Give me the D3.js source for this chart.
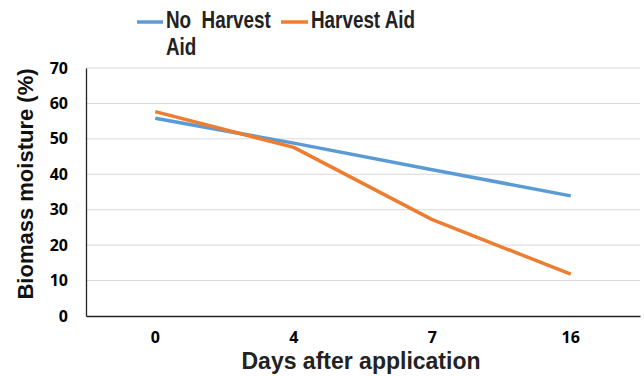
<!DOCTYPE html>
<html><head><meta charset="utf-8">
<script src="https://cdn.jsdelivr.net/npm/d3@7"></script>
<style>body{margin:0;background:#fff}svg{display:block}</style>
</head><body>
<script>
const days = ["0", "4", "7", "16"];
const noHarvestAid = [55.8, 48.8, 41.3, 33.9];
const harvestAid = [57.7, 47.6, 27.2, 11.8];
const yTicks = [0, 10, 20, 30, 40, 50, 60, 70];
const seriesNames = ["No  Harvest Aid", "Harvest Aid"];
const colors = ["#5b9bd5", "#ed7d31"];

const W = 644, H = 376;
const m = {left: 86, right: 4, top: 68, bottom: 60};
const svg = d3.select("body").append("svg").attr("width", W).attr("height", H);

const x = d3.scaleBand().domain(days).range([m.left, W - m.right]);
const y = d3.scaleLinear().domain([0, 70]).range([H - m.bottom, m.top]);

// gridlines
svg.append("g").selectAll("line").data(yTicks.filter(d => d > 0)).join("line")
  .attr("x1", m.left).attr("x2", W - m.right)
  .attr("y1", d => y(d)).attr("y2", d => y(d))
  .attr("stroke", "#d9d9d9").attr("stroke-width", 1);

// y axis
const ya = svg.append("g").attr("transform", `translate(${m.left},0)`)
  .call(d3.axisLeft(y).tickValues(yTicks).tickSize(0).tickPadding(18));
ya.select(".domain").attr("stroke", "#222").attr("stroke-width", 1.3);
ya.selectAll("text").attr("font-family", "'Open Sans', sans-serif").attr("font-weight", 700)
  .attr("font-size", 16).attr("fill", "#000");

// x axis
const xa = svg.append("g").attr("transform", `translate(0,${H - m.bottom})`)
  .call(d3.axisBottom(x).tickSize(0).tickPadding(16));
xa.select(".domain").attr("stroke", "#222").attr("stroke-width", 1.3);
xa.selectAll("text").attr("font-family", "'Open Sans', sans-serif").attr("font-weight", 700)
  .attr("font-size", 16).attr("fill", "#000");

// lines
const line = d3.line().x((d, i) => x(days[i]) + x.bandwidth() / 2).y(d => y(d));
[noHarvestAid, harvestAid].forEach((s, i) => {
  svg.append("path").datum(s).attr("d", line).attr("fill", "none")
    .attr("stroke", colors[i]).attr("stroke-width", 3.5).attr("stroke-linejoin", "round");
});

// axis titles
svg.append("text").attr("transform", `translate(33,${(m.top + H - m.bottom) / 2 - 8}) rotate(-90)`)
  .attr("text-anchor", "middle").attr("font-family", "'Liberation Sans', Arial, sans-serif")
  .attr("font-weight", 700).attr("font-size", 22).attr("fill", "#111").text("Biomass moisture (%)");
svg.append("text").attr("transform", "translate(361,369)").attr("text-anchor", "middle")
  .attr("font-family", "'Liberation Sans', Arial, sans-serif")
  .attr("font-weight", 700).attr("font-size", 23).attr("fill", "#222").text("Days after application");

// legend
const lf = "'Liberation Sans', Arial, sans-serif";
const lg = svg.append("g");
lg.append("line").attr("x1", 137).attr("x2", 163).attr("y1", 22).attr("y2", 22)
  .attr("stroke", colors[0]).attr("stroke-width", 3.5);
lg.append("text").attr("transform", "translate(166,28) scale(0.82,1)").attr("font-family", lf)
  .attr("font-weight", 700).attr("font-size", 23).attr("fill", "#222").style("white-space", "pre").text("No  Harvest");
lg.append("text").attr("transform", "translate(166,55) scale(0.82,1)").attr("font-family", lf)
  .attr("font-weight", 700).attr("font-size", 23).attr("fill", "#222").text("Aid");
lg.append("line").attr("x1", 281).attr("x2", 308).attr("y1", 22).attr("y2", 22)
  .attr("stroke", colors[1]).attr("stroke-width", 3.5);
lg.append("text").attr("transform", "translate(311,28) scale(0.82,1)").attr("font-family", lf)
  .attr("font-weight", 700).attr("font-size", 23).attr("fill", "#222").text(seriesNames[1]);
</script>
</body></html>
